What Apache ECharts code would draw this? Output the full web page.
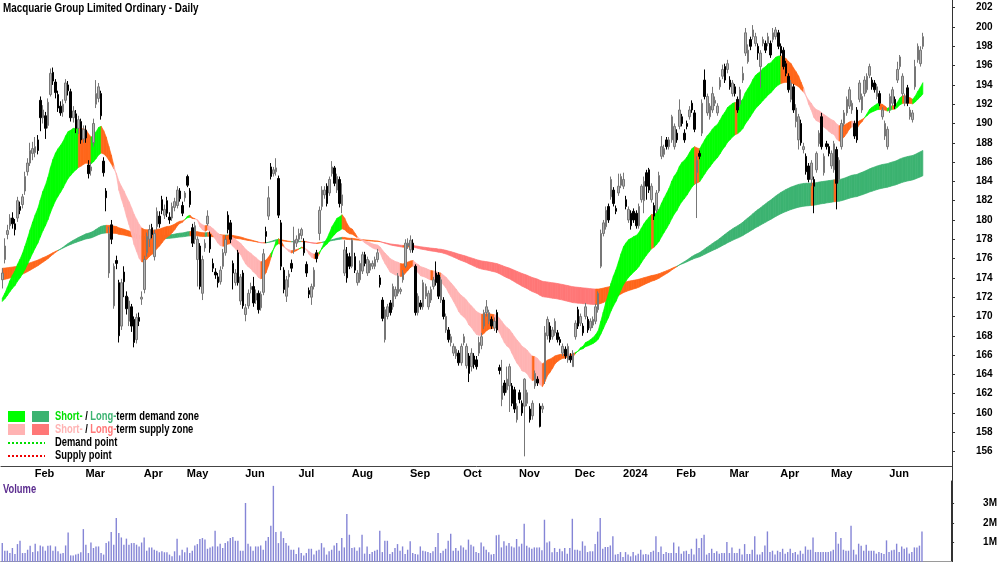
<!DOCTYPE html>
<html lang="en">
<head>
<meta charset="UTF-8">
<title>Macquarie Group Limited Ordinary - Daily</title>
<script src="https://cdn.jsdelivr.net/npm/echarts@6.0.0/dist/echarts.min.js"></script>
<style>
    html, body { margin: 0; padding: 0; background: #fff; }
    #main { width: 1000px; height: 562px; }
</style>
</head>
<body>
<div id="main"></div>
<script>
    // daily bars from 13 Jan 2023, each row is [open, close, low, high]
    var candles = [
        // Jan 2023
        [173.8,174.5,172.9,175.0],[175.9,177.3,175.5,178.1],[178.5,178.9,178.0,179.5],[179.4,180.2,179.0,180.6],[180.2,179.6,179.1,180.8],
        [179.6,179.0,178.4,180.1],[180.2,182.0,179.8,182.4],[181.4,181.0,180.6,181.9],[181.6,182.4,181.2,182.7],[183.0,184.5,182.6,185.0],
        [185.0,185.9,184.6,186.4],[185.9,187.2,185.6,188.0],[186.9,187.4,186.2,188.1],
        // Feb
        [187.0,187.6,186.5,188.6],[188.3,187.2,186.8,188.8],[192.4,190.6,189.2,192.8],[190.6,191.4,190.0,191.9],[190.8,189.5,188.4,191.2],
        [189.8,192.2,189.5,192.6],[193.0,195.2,192.8,195.7],[195.3,194.4,194.0,195.8],[194.3,193.2,192.6,194.6],[193.0,191.6,191.2,193.4],
        [191.8,191.1,190.8,192.3],[191.2,192.0,190.7,192.5],[192.4,194.2,192.1,194.6],[194.0,193.4,192.9,194.4],[193.3,190.6,190.2,193.6],
        [190.6,191.3,190.1,191.8],[191.0,189.5,189.0,191.4],[189.5,190.4,188.9,190.8],[190.2,188.3,187.9,190.5],[188.4,189.4,188.0,189.8],
        // Mar
        [189.3,188.5,188.0,189.8],[185.7,184.8,184.3,186.2],[185.1,185.5,184.6,186.0],[188.0,190.0,187.6,190.5],[192.0,193.1,191.6,194.5],
        [192.6,193.8,192.2,194.2],[193.1,190.8,190.4,193.4],[186.1,184.9,184.5,186.5],[183.0,182.3,180.9,183.3],[174.5,178.6,174.0,179.3],
        [179.5,178.0,177.5,180.0],[171.1,175.2,170.8,175.5],[175.8,175.5,174.9,176.3],[173.5,168.0,167.3,173.8],[169.0,173.5,168.6,173.9],
        [174.6,173.6,172.0,175.2],[172.1,170.8,170.2,172.6],[169.5,171.6,169.0,172.0],[171.0,169.0,168.4,171.3],[169.7,167.3,166.8,170.0],
        [167.6,169.9,167.2,170.3],[169.9,169.5,169.0,170.4],[171.8,172.0,171.2,172.6],
        // Apr
        [172.8,175.9,172.4,176.3],[176.6,178.3,176.2,178.7],[178.0,179.0,177.2,179.5],[179.2,178.5,178.1,179.6],[176.2,178.6,175.8,179.0],
        [179.3,180.9,179.0,181.3],[180.4,179.6,179.2,180.9],[182.1,181.0,180.6,182.5],[180.5,181.1,180.1,181.6],[182.0,180.7,180.3,182.4],
        [180.3,180.0,179.6,180.8],[180.2,181.4,179.9,181.8],[181.3,181.9,180.9,182.3],[181.5,183.1,181.2,183.5],[183.0,182.2,181.9,183.3],
        [181.5,180.7,180.4,181.9],[182.3,182.8,181.9,183.0],
        // May
        [184.5,183.6,183.4,184.7],[183.0,181.6,181.3,183.3],[179.2,177.6,177.2,179.6],[178.0,179.4,177.5,179.8],[175.9,178.0,173.1,178.3],
        [177.3,173.1,172.8,177.6],[172.4,175.9,171.7,176.3],[177.1,177.6,176.7,178.0],[179.6,180.4,179.4,181.0],[178.5,177.0,176.6,178.8],
        [175.5,175.0,174.6,176.0],[174.6,174.3,173.9,175.0],[174.1,173.5,173.0,174.5],[173.6,174.8,173.3,175.2],[175.2,176.6,174.9,177.0],
        [176.6,178.0,176.3,178.4],[180.5,179.0,178.6,180.9],[179.7,178.0,177.6,180.0],[175.5,174.5,172.8,175.8],[173.5,174.5,173.2,174.9],
        [176.6,173.5,173.2,176.9],[171.6,174.1,171.2,174.4],[174.5,171.1,170.8,174.8],
        // Jun
        [170.2,170.9,169.5,171.3],[171.1,172.4,170.8,172.8],[172.8,173.1,172.4,173.5],[173.1,171.4,171.0,174.1],[171.7,172.4,171.3,172.8],
        [172.4,170.7,170.3,172.7],[170.9,172.3,170.6,172.6],[172.5,176.5,172.2,177.0],[178.8,178.3,177.6,179.3],[180.4,182.3,180.0,183.5],
        [185.5,184.5,184.2,185.9],[184.8,185.2,184.5,185.5],[185.0,185.4,184.6,186.4],[184.3,180.5,180.2,184.6],[179.7,175.2,174.8,180.0],
        [174.8,172.8,172.4,175.1],[172.1,173.8,171.5,174.2],[174.1,174.4,173.0,174.8],[175.5,175.0,174.6,175.9],[176.9,177.9,176.5,179.3],
        [177.6,178.0,177.2,178.4],
        // Jul
        [178.0,178.6,177.7,179.1],[178.4,179.0,178.0,179.2],[177.8,176.6,176.3,178.1],[175.4,174.5,174.1,175.7],[172.7,172.3,171.9,173.0],
        [172.0,173.1,171.2,173.4],[173.1,174.8,172.8,175.1],[176.6,176.0,175.6,176.9],[178.6,181.0,177.9,181.4],[181.4,183.1,181.0,183.5],
        [182.6,183.1,182.2,183.5],[183.5,181.7,181.4,183.8],[182.8,184.2,182.5,184.5],[184.8,185.5,184.5,186.1],[185.4,183.8,183.5,185.6],
        [183.1,184.5,182.8,184.8],[184.2,181.7,181.3,184.5],[181.5,182.6,180.7,183.8],[174.5,176.9,174.2,177.9],[176.5,174.0,173.5,177.2],
        [176.2,175.2,174.9,176.6],
        // Aug
        [175.2,177.9,175.0,178.1],[176.2,174.8,174.5,176.6],[173.5,174.5,173.2,174.8],[173.8,175.5,173.5,175.8],[174.7,176.4,174.4,176.7],
        [176.4,175.5,175.2,176.7],[174.5,175.9,174.2,176.2],[174.8,175.5,174.5,175.8],[175.2,175.5,174.9,175.8],[175.2,175.9,174.9,176.2],
        [175.9,176.6,175.6,177.0],[174.0,173.3,173.0,174.3],[171.7,169.8,169.5,172.0],[167.6,170.7,167.3,171.0],[170.0,171.0,169.7,171.3],
        [171.4,170.4,170.1,171.7],[171.0,173.1,170.7,173.4],[172.1,172.8,171.8,173.1],[172.4,174.2,172.1,174.5],[172.6,172.8,172.3,173.0],
        [173.8,174.5,173.5,174.8],[175.2,177.6,175.0,178.0],[177.3,177.6,177.0,178.1],
        // Sep
        [176.9,177.9,176.6,178.4],[177.6,176.9,176.6,178.0],[175.2,170.4,170.1,175.4],[170.4,172.1,170.1,172.4],[171.4,171.0,170.7,171.7],
        [171.0,173.5,170.7,173.8],[172.1,173.1,171.8,173.4],[171.0,172.4,170.7,172.7],[171.7,172.8,171.4,173.1],[173.1,173.8,172.8,174.1],
        [174.5,173.5,173.2,175.7],[174.3,172.1,171.8,174.6],[171.7,173.8,171.4,174.1],[171.7,170.0,169.7,172.0],[168.6,170.0,168.3,170.3],
        [168.6,167.6,167.3,168.9],[167.3,167.9,166.9,168.2],[166.2,166.9,165.9,167.2],[165.9,166.6,165.6,166.9],[166.2,165.2,164.9,166.5],
        [165.2,166.9,164.9,167.2],
        // Oct
        [167.3,167.9,167.0,168.2],[164.9,166.9,164.6,167.2],[165.9,164.1,163.2,166.2],[164.8,166.2,164.3,166.7],[165.9,165.0,164.6,166.2],
        [165.5,164.8,164.5,165.9],[166.2,167.3,165.9,167.9],[167.0,167.9,166.6,168.3],[169.0,170.4,168.7,170.7],[170.4,171.0,170.0,171.7],
        [169.5,170.4,169.2,170.7],[169.7,169.0,168.7,170.0],[168.8,169.5,168.5,169.9],[170.4,168.6,168.3,170.7],[164.7,164.4,164.0,165.0],
        [161.4,162.8,160.7,165.5],[163.1,162.1,161.8,163.4],[162.4,163.5,162.1,164.8],[162.8,164.8,160.1,165.1],[162.8,161.0,160.7,163.1],
        [162.4,160.4,160.0,162.7],[159.3,160.7,159.0,161.0],
        // Nov
        [162.1,161.4,161.0,162.4],[161.0,160.0,159.7,161.3],[160.7,163.5,155.5,163.6],[161.0,162.1,160.7,162.4],[160.4,159.3,159.0,160.7],
        [159.7,161.0,159.3,161.3],[162.8,164.1,162.5,164.4],[163.5,163.1,162.8,163.8],[160.7,158.6,158.5,161.0],[160.4,160.7,160.0,161.0],
        [163.5,168.3,163.0,169.0],[168.0,169.7,167.6,170.0],[169.0,167.6,167.3,169.4],[167.9,168.6,167.6,168.9],[168.3,169.5,168.0,169.8],
        [168.3,167.6,167.3,168.6],[167.6,167.3,167.0,167.9],[166.2,166.9,165.9,167.2],[166.6,165.9,165.6,166.9],[165.5,166.9,165.2,167.2],
        [165.9,165.5,165.2,166.2],[164.8,166.2,164.8,166.5],
        // Dec
        [167.9,169.3,167.6,169.6],[170.7,169.0,168.7,171.0],[169.3,170.0,169.0,170.3],[169.0,168.3,168.0,169.3],[170.0,171.0,169.7,171.4],
        [169.7,168.6,168.3,170.0],[168.8,169.5,168.5,169.8],[169.1,169.7,168.8,170.0],[169.5,171.0,169.2,171.3],[170.7,172.4,170.4,172.6],
        [175.2,178.6,175.0,179.0],[178.6,179.7,178.3,180.0],[179.3,181.0,179.0,181.4],[181.4,180.0,179.7,181.7],[182.4,184.2,182.1,184.5],
        [183.1,181.7,181.4,183.4],[181.2,180.9,180.6,181.5],[182.8,183.5,182.5,184.8],[183.6,184.5,183.3,184.8],
        // Jan 2024
        [183.5,184.2,183.2,184.9],[182.1,181.4,181.1,182.5],[180.0,181.1,179.7,181.4],[180.7,179.4,179.0,181.0],[180.9,180.0,179.7,181.2],
        [180.7,179.4,179.1,181.0],[179.4,181.4,179.1,181.7],[182.1,183.5,181.8,183.7],[182.0,184.0,180.7,184.5],[184.9,183.5,182.1,185.2],
        [185.2,183.1,182.8,185.4],[182.1,183.5,181.8,183.8],[181.5,180.4,180.0,181.8],[181.0,182.8,180.7,183.1],[183.0,184.6,182.8,185.0],
        [186.6,187.6,186.3,188.7],[186.8,187.4,186.5,187.8],[188.3,187.6,187.3,188.6],[187.6,188.3,187.3,188.6],[188.3,190.7,188.0,190.9],
        [187.6,189.7,187.3,190.0],
        // Feb
        [189.0,188.3,188.0,189.4],[189.7,191.4,189.4,192.5],[190.7,190.0,189.7,191.0],[189.0,188.3,188.0,189.4],[190.0,189.7,189.4,190.3],
        [190.7,191.4,190.4,191.8],[192.1,191.4,191.1,192.4],[191.1,189.4,189.1,191.4],[184.9,186.2,180.2,186.6],[186.9,186.6,186.3,187.2],
        [189.0,192.1,188.7,192.5],[194.5,192.8,192.5,195.6],[191.1,192.8,190.8,193.1],[190.7,191.8,190.4,192.1],[191.4,193.1,191.1,193.8],
        [192.1,192.4,191.8,192.8],[191.1,191.8,190.8,192.1],[193.8,194.5,193.5,194.8],[194.9,195.6,194.6,196.1],[195.9,194.5,194.2,196.2],
        [195.6,196.2,195.2,196.6],
        // Mar
        [194.5,193.8,193.5,194.9],[193.1,194.2,192.8,194.5],[193.8,193.1,192.8,194.1],[192.5,191.4,191.1,192.8],[192.0,193.5,191.7,193.8],
        [194.5,195.2,194.2,195.9],[197.3,199.4,197.0,199.9],[196.4,197.6,196.2,198.2],[198.7,198.0,197.6,199.0],[199.0,199.7,198.7,200.2],
        [198.3,199.0,198.0,199.4],[198.0,197.3,196.6,198.3],[195.9,197.3,193.7,197.6],[198.3,198.7,198.0,199.0],[198.3,197.6,197.3,198.6],
        [198.3,199.0,198.0,199.4],[198.3,197.1,196.8,198.6],[198.7,199.4,198.4,199.9],[199.0,199.7,198.7,200.0],[199.4,198.0,197.7,199.7],
        // Apr
        [198.0,197.3,197.0,198.3],[197.6,195.9,195.6,197.9],[196.2,195.2,194.9,196.5],[194.9,193.5,193.2,195.2],[192.5,194.2,192.2,194.5],
        [193.8,191.4,191.1,194.1],[190.2,191.6,189.6,192.0],[188.3,190.7,187.3,191.0],[190.0,188.0,187.7,190.4],[187.3,187.6,186.9,188.0],
        [186.6,185.0,184.7,186.9],[185.6,184.2,183.9,185.9],[184.2,185.9,183.5,186.2],[184.2,183.5,180.7,184.5],[185.2,186.9,184.9,187.1],
        [187.9,189.0,187.6,189.3],[190.7,187.6,187.3,191.1],[184.9,186.6,184.6,186.9],[187.9,187.6,187.3,188.2],[187.6,186.9,186.6,187.9],
        // May
        [185.6,186.9,185.3,187.2],[185.2,187.9,184.9,188.2],[187.3,183.8,181.1,187.6],[184.2,186.2,183.9,186.5],[187.6,190.0,187.3,190.4],
        [190.0,191.1,189.7,191.4],[191.1,192.5,190.8,192.8],[191.8,193.5,191.5,193.8],[191.4,192.1,191.0,192.4],[190.0,188.7,188.4,190.3],
        [191.4,188.3,188.0,191.7],[192.5,194.2,192.2,194.5],[191.4,192.8,191.1,193.1],[193.1,194.5,192.8,194.9],[193.5,194.9,193.2,195.2],
        [195.0,195.9,194.7,196.2],[194.5,193.8,193.5,194.8],[194.2,193.5,193.2,194.5],[192.8,193.8,192.5,194.1],[193.1,192.1,191.8,193.4],
        [190.7,191.4,190.4,191.7],[188.7,190.0,188.3,190.3],[187.6,189.4,187.3,189.7],
        // Jun
        [191.4,192.8,191.1,193.1],[192.1,193.5,191.8,193.8],[192.5,191.8,191.5,192.8],[194.5,195.6,194.2,196.4],[195.9,196.9,195.6,197.1],
        [193.1,194.9,192.8,195.2],[192.1,192.8,191.8,193.1],[193.7,192.1,191.8,194.0],[190.7,191.4,190.4,191.7],[190.4,191.1,190.1,191.4],
        [193.8,195.9,193.5,196.6],[196.6,198.0,196.3,198.3],[196.2,197.6,195.9,198.0],[198.0,199.0,197.7,199.4]
    ];

    // volume in millions of shares, one per bar
    var volumes = [
        0.97,0.58,0.58,0.46,0.72,0.41,0.92,1.09,0.46,0.46, 0.63,0.84,0.51,0.94,0.55,0.85,0.8,0.58,0.84,0.85,
        0.58,0.8,0.55,0.43,0.46,0.85,1.52,0.34,0.34,0.38, 0.43,0.5,1.69,0.89,0.46,1.0,0.72,0.8,0.8,0.46,
        0.38,0.97,1.06,1.54,0.89,2.26,1.49,1.26,0.89,1.2, 0.89,0.97,0.97,0.89,0.8,1.0,1.26,0.58,0.75,0.75,
        0.63,0.58,0.5,0.55,0.5,0.5,0.38,0.29,0.55,1.2, 0.34,0.63,0.5,0.75,0.46,0.58,0.85,0.92,1.18,1.23,
        1.15,0.68,0.75,0.8,1.61,0.8,0.94,0.72,0.97,1.06, 1.23,1.28,1.09,1.09,0.58,0.58,3.03,0.94,0.8,0.58,
        0.8,0.8,0.85,0.63,1.09,1.28,1.86,3.91,1.54,0.97, 1.57,1.23,0.97,0.84,0.63,0.63,0.41,0.75,0.46,0.34,
        0.46,0.68,0.68,0.38,0.58,0.63,0.97,0.75,0.38,0.55, 0.63,0.85,0.97,0.58,1.23,0.75,2.46,1.4,0.72,0.75,
        0.58,0.75,1.4,0.43,0.8,0.41,0.51,0.58,0.63,1.61, 0.51,1.09,1.09,0.41,0.51,0.72,0.92,0.58,0.8,0.41,
        0.63,1.06,0.46,0.41,0.38,0.8,0.58,0.55,0.51,0.46, 0.55,0.77,1.49,0.46,0.58,0.68,1.09,1.45,0.58,0.72,
        0.58,0.85,0.75,0.63,1.15,0.89,0.8,0.51,0.46,1.0, 0.8,0.63,0.5,0.38,0.41,1.37,
        1.4,0.75,1.06,0.84,0.97,0.8,0.75,1.18,0.8,0.94, 1.97,0.84,0.75,0.68,0.75,0.75,0.75,0.6,2.17,1.0,
        1.06,0.5,0.72,0.51,0.68,0.55,0.72,0.43,0.72,2.22, 0.63,0.63,0.58,1.06,0.84,0.51,0.55,0.55,0.92,1.56,
        2.26,0.68,0.77,0.77,0.85,1.32,0.38,0.41,0.51,0.26, 0.51,0.38,0.29,0.51,0.34,0.43,0.63,0.38,0.41,0.38,
        0.51,0.58,1.32,0.51,0.8,0.41,0.51,0.46,0.46,1.0, 0.46,0.8,0.43,0.55,0.58,0.41,0.68,0.38,1.2,0.72,
        1.23,1.4,0.38,0.46,0.68,0.46,0.55,0.43,0.46,0.46, 1.03,0.46,0.75,0.46,0.46,0.68,0.38,0.92,0.41,0.41,
        0.63,1.32,0.38,0.38,0.51,0.85,1.57,0.51,0.58,0.38, 0.58,0.51,0.68,0.43,0.51,0.68,0.46,0.51,0.38,0.58,
        0.43,0.8,0.63,0.63,1.26,0.51,0.51,0.51,0.51,0.51, 0.51,0.55,0.63,1.54,0.94,1.23,0.63,0.58,0.58,1.86,
        0.63,0.38,0.94,0.84,0.58,0.89,0.58,0.58,0.58,0.43, 0.51,0.46,0.41,1.11,0.51,0.6,0.63,0.94,0.51,0.8,
        0.68,0.75,0.43,0.51,0.75,0.75,0.84,1.57
    ];

    var startDate = '2023-01-13';
    var holidays = ['2023-01-26','2023-04-07','2023-04-10','2023-04-25','2023-06-12','2023-12-25','2023-12-26',
                    '2024-01-01','2024-01-26','2024-03-29','2024-04-01','2024-04-25','2024-06-10'];
    var monthNames = ['Jan','Feb','Mar','Apr','May','Jun','Jul','Aug','Sep','Oct','Nov','Dec'];
    var priceTicks = [156,158,160,162,164,166,168,170,172,174,176,178,180,182,184,186,188,190,192,194,196,198,200,202];
    var volumeTicks = [1, 2, 3];
    var emptyDays = 11;   // blank room right of the last bar

    // band settings: [fast, slow] EMA periods and their values before the first bar
    var shortPeriods = [20, 40];
    var longPeriods = [165, 250];
    var shortSeed = [171.6, 171.4];
    var longSeed = [173.8, 175.0];

    var shortColors = ['#00ff00', '#ffb3b3', '#ff661a'];  // demand, supply, turning
    var longColors = ['#3cb371', '#ff7777', '#ff661a'];

    var FONT = "'Liberation Sans', Arial, sans-serif";

    function tradingDays(start, n) {
        var d = new Date(start + 'T00:00:00Z'), out = [];
        while (out.length < n) {
            var s = d.toISOString().slice(0, 10), wd = d.getUTCDay();
            if (wd !== 0 && wd !== 6 && holidays.indexOf(s) < 0) out.push(s);
            d.setUTCDate(d.getUTCDate() + 1);
        }
        return out;
    }

    var dates = tradingDays(startDate, candles.length);
    var categories = dates.slice();
    for (var k = 0; k < emptyDays; k++) categories.push('');

    function isMonthStart(i) {
        if (i <= 0 || i >= dates.length) return false;
        return dates[i].slice(5, 7) !== dates[i - 1].slice(5, 7);
    }
    function monthLabel(i) {
        var m = +dates[i].slice(5, 7);
        return m === 1 ? dates[i].slice(0, 4) : monthNames[m - 1];
    }

    function ema(period, seed) {
        var a = 2 / (period + 1), v = seed, out = [];
        candles.forEach(function (c) {
            v = v + a * (c[1] - v);
            out.push(v);
        });
        return out;
    }

    // 0 = demand (fast above slow and rising), 1 = supply (below and falling), 2 = turning
    function bandItems(fast, slow) {
        var items = [];
        for (var i = 0; i < fast.length - 1; i++) {
            var rising = fast[i + 1] >= fast[i];
            var above = fast[i + 1] >= slow[i + 1];
            var st = (above && rising) ? 0 : ((!above && !rising) ? 1 : 2);
            items.push([i, fast[i], slow[i], fast[i + 1], slow[i + 1], st]);
        }
        return items;
    }

    function bandSeries(items, colors) {
        return {
            type: 'custom',
            xAxisIndex: 0,
            yAxisIndex: 0,
            silent: true,
            z: 1,
            encode: { x: 0, y: [1, 2, 3, 4] },
            data: items,
            renderItem: function (params, api) {
                var i = api.value(0);
                var col = colors[api.value(5)];
                var pts = [
                    api.coord([i, api.value(1)]),
                    api.coord([i + 1, api.value(3)]),
                    api.coord([i + 1, api.value(4)]),
                    api.coord([i, api.value(2)])
                ];
                return {
                    type: 'polygon',
                    shape: { points: pts },
                    style: { fill: col, stroke: col, lineWidth: 0.7 }
                };
            }
        };
    }

    var shortBand = bandItems(ema(shortPeriods[0], shortSeed[0]), ema(shortPeriods[1], shortSeed[1]));
    var longBand = bandItems(ema(longPeriods[0], longSeed[0]), ema(longPeriods[1], longSeed[1]));

    // narrow look of the original type: plain text squeezed sideways
    var SQ = 0.78;

    function legendRow(y, c1, c2, t1, t2, tail) {
        return [
            { type: 'rect', shape: { x: 8, y: y - 6, width: 17, height: 11 }, style: { fill: c1 } },
            { type: 'rect', shape: { x: 32, y: y - 6, width: 17, height: 11 }, style: { fill: c2 } },
            {
                type: 'text', x: 55, y: y, scaleX: SQ,
                style: {
                    text: '{a|Short-}{k| / }{b|Long-}{k|' + tail + '}',
                    verticalAlign: 'middle',
                    rich: {
                        a: { fill: t1, fontSize: 12, fontFamily: FONT, fontWeight: 'bold' },
                        b: { fill: t2, fontSize: 12, fontFamily: FONT, fontWeight: 'bold' },
                        k: { fill: '#000', fontSize: 12, fontFamily: FONT, fontWeight: 'bold' }
                    }
                }
            }
        ];
    }
    function pointRow(y, col, label) {
        return [
            { type: 'line', shape: { x1: 8, y1: y, x2: 45, y2: y }, style: { stroke: col, lineWidth: 2, lineDash: [2, 2] } },
            { type: 'text', x: 55, y: y, scaleX: SQ, style: { text: label, fill: '#000', fontSize: 12, fontFamily: FONT, fontWeight: 'bold', verticalAlign: 'middle' } }
        ];
    }

    var graphics = [
        { type: 'text', x: 3, y: 2, scaleX: 0.76, style: { text: 'Macquarie Group Limited Ordinary - Daily', fill: '#000', fontSize: 13, fontWeight: 'bold', fontFamily: FONT } },
        { type: 'text', x: 3, y: 484, scaleX: SQ, style: { text: 'Volume', fill: '#5b2c8f', fontSize: 12, fontWeight: 'bold', fontFamily: FONT } },
        { type: 'line', shape: { x1: 952.5, y1: 0, x2: 952.5, y2: 562 }, style: { stroke: '#333', lineWidth: 1 } }
    ]
        .concat(legendRow(417, shortColors[0], longColors[0], '#00e000', '#3cb371', 'term demand zone'))
        .concat(legendRow(430, shortColors[1], longColors[1], '#ffb3b3', '#ff7777', 'term supply zone'))
        .concat(pointRow(443, '#00dd00', 'Demand point'))
        .concat(pointRow(456, '#ee0000', 'Supply point'));

    var chart = echarts.init(document.getElementById('main'));
    chart.setOption({
        animation: false,
        textStyle: { fontFamily: FONT },
        grid: [
            { left: 1, right: 48, top: 0, height: 466 },
            { left: 1, right: 48, top: 481, height: 82 }
        ],
        xAxis: [
            {
                type: 'category', gridIndex: 0, data: categories,
                axisLine: { lineStyle: { color: '#444', width: 1 } },
                axisTick: {
                    alignWithLabel: true, length: 7,
                    interval: function (i) { return isMonthStart(i); },
                    lineStyle: { color: '#444' }
                },
                axisLabel: {
                    interval: function (i) { return isMonthStart(i); },
                    formatter: function (v, i) { return isMonthStart(i) ? monthLabel(i) : ''; },
                    align: 'left', padding: [0, 0, 0, 2], margin: 2,
                    color: '#000', fontSize: 11, fontWeight: 'bold', fontFamily: FONT
                },
                splitLine: { show: false }
            },
            {
                type: 'category', gridIndex: 1, data: categories, position: 'top',
                axisLine: { lineStyle: { color: '#9a9a9a', width: 2 } },
                axisTick: { show: false }, axisLabel: { show: false }, splitLine: { show: false }
            }
        ],
        yAxis: [
            {
                type: 'value', gridIndex: 0, position: 'right', min: 154.5, max: 202.8,
                axisLine: { show: true, lineStyle: { color: '#333' } },
                axisTick: { show: true, length: 3, customValues: priceTicks, lineStyle: { color: '#333' } },
                axisLabel: {
                    customValues: priceTicks, margin: 24,
                    color: '#000', fontSize: 10, fontWeight: 'bold', fontFamily: FONT
                },
                splitLine: { show: false }
            },
            {
                type: 'value', gridIndex: 1, position: 'right', min: 0, max: 4.16,
                axisLine: { show: true, lineStyle: { color: '#333' } },
                axisTick: { show: true, length: 3, customValues: volumeTicks, lineStyle: { color: '#333' } },
                axisLabel: {
                    customValues: volumeTicks, margin: 32,
                    formatter: function (v) { return v + 'M'; },
                    color: '#000', fontSize: 10, fontWeight: 'bold', fontFamily: FONT
                },
                splitLine: { show: false }
            }
        ],
        series: [
            bandSeries(longBand, longColors),
            bandSeries(shortBand, shortColors),
            {
                type: 'candlestick', xAxisIndex: 0, yAxisIndex: 0, z: 3,
                data: candles, barWidth: 2,
                itemStyle: {
                    color: '#b4b4b4', color0: '#000000',
                    borderColor: '#777777', borderColor0: '#000000', borderWidth: 1
                }
            },
            {
                type: 'bar', xAxisIndex: 1, yAxisIndex: 1,
                data: volumes, barWidth: 1.4,
                itemStyle: { color: '#8585d6' }
            }
        ],
        graphic: graphics
    });
</script>
</body>
</html>
